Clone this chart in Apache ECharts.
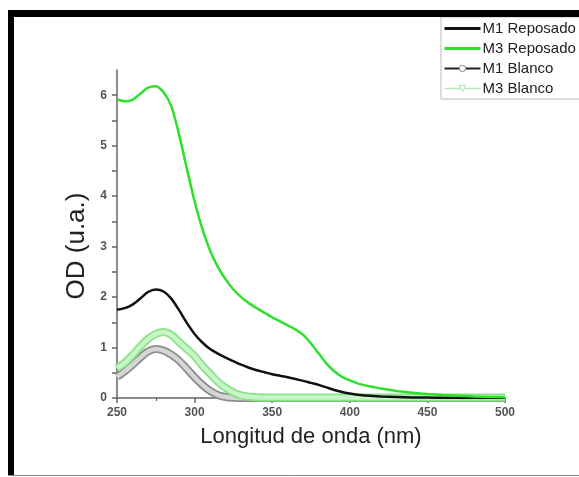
<!DOCTYPE html>
<html>
<head>
<meta charset="utf-8">
<script src="https://cdn.jsdelivr.net/npm/echarts@6/dist/echarts.min.js"></script>
<style>
html,body{margin:0;padding:0;background:#fff;}
#c{width:579px;height:477px;}
</style>
</head>
<body>
<div id="c"></div>
<script>
// Wavelength (nm)
var wavelength = [250,255,260,265,270,275,280,285,290,295,300,305,310,315,320,325,330,335,340,345,350,355,360,365,370,375,380,385,390,395,400,405,410,415,420,430,440,450,460,470,480,490,500];
// OD (u.a.)
var m1Reposado = [1.75,1.78,1.85,1.97,2.1,2.15,2.11,1.97,1.74,1.49,1.27,1.1,0.97,0.88,0.8,0.73,0.66,0.6,0.55,0.51,0.47,0.44,0.41,0.375,0.34,0.3,0.26,0.21,0.16,0.12,0.09,0.065,0.05,0.038,0.03,0.02,0.012,0.008,0.005,0.003,0.002,0.001,0];
var m3Reposado = [5.92,5.88,5.91,6.03,6.15,6.18,6.06,5.78,5.22,4.55,3.9,3.35,2.92,2.6,2.35,2.15,2.0,1.88,1.78,1.69,1.6,1.52,1.44,1.36,1.25,1.08,0.88,0.68,0.53,0.42,0.35,0.29,0.25,0.22,0.19,0.14,0.105,0.08,0.06,0.045,0.03,0.02,0.015];
var m1Blanco = [0.42,0.53,0.66,0.8,0.92,0.97,0.94,0.86,0.74,0.58,0.41,0.26,0.14,0.06,0.02,0.005,0,0,0,0,0,0,0,0,0,0,0,0,0,0,0,0,0,0,0,0,0,0,0,0,0,0,0];
var m3Blanco = [0.59,0.7,0.85,1.02,1.17,1.27,1.31,1.25,1.11,0.97,0.83,0.64,0.48,0.32,0.2,0.11,0.05,0.025,0.015,0.01,0.01,0.01,0.01,0.01,0.01,0.01,0.01,0.01,0.01,0.01,0.01,0.01,0.01,0.01,0.01,0.01,0.01,0.01,0.01,0.01,0.01,0.01,0.01];
var xTicks = [250,300,350,400,450,500];
var yTicks = [0,1,2,3,4,5,6];
var yTickMarks = [0,0.5,1,1.5,2,2.5,3,3.5,4,4.5,5,5.5,6];

function pairs(ys){ return wavelength.map(function(x,i){ return [x, ys[i]]; }); }

var FONT = 'Liberation Sans, Arial, sans-serif';
var chart = echarts.init(document.getElementById('c'), null, {renderer:'canvas'});
chart.setOption({
  backgroundColor:'#fff',
  animation:false,
  textStyle:{fontFamily:FONT},
  grid:{left:117,right:74,top:70,bottom:79,containLabel:false},
  graphic:[
    {type:'rect',shape:{x:8,y:10,width:571,height:7},style:{fill:'#000'},z:100},
    {type:'rect',shape:{x:8,y:10,width:6,height:466},style:{fill:'#000'},z:100},
    {type:'line',shape:{x1:8,y1:475.5,x2:579,y2:475.5},style:{stroke:'#888',lineWidth:1},z:100}
  ],
  legend:{
    orient:'vertical',left:441,top:17,
    padding:[4,12,3,2],itemGap:5,itemWidth:36,itemHeight:8,
    borderColor:'#bbb',borderWidth:1,backgroundColor:'#fff',
    textStyle:{fontSize:15,color:'#222',fontFamily:FONT,padding:[0,0,0,-3]},
    data:[
      {name:'M1 Reposado',lineStyle:{color:'#111',width:3},itemStyle:{opacity:0}},
      {name:'M3 Reposado',lineStyle:{color:'#2ee02e',width:3},itemStyle:{opacity:0}},
      {name:'M1 Blanco',lineStyle:{color:'#222',width:2},itemStyle:{color:'#fff',borderColor:'#888',borderWidth:1}},
      {name:'M3 Blanco',lineStyle:{color:'#b5eab5',width:1.5},itemStyle:{color:'#fff',borderColor:'#a8e4a8',borderWidth:1}}
    ]
  },
  xAxis:{
    type:'value',min:250,max:500,interval:50,
    name:'Longitud de onda (nm)',nameLocation:'middle',nameGap:28,
    nameTextStyle:{fontSize:22,color:'#222',fontFamily:FONT},
    axisLine:{show:true,onZero:false,lineStyle:{color:'#666',width:1.5}},
    axisTick:{show:true,length:5,lineStyle:{color:'#666',width:1.5}},
    minorTick:{show:true,splitNumber:2,length:3,lineStyle:{color:'#666',width:1.2}},
    splitLine:{show:false},
    axisLabel:{fontSize:12,fontWeight:'bold',color:'#555',margin:9,fontFamily:FONT,
      customValues:xTicks}
  },
  yAxis:{
    type:'value',min:0,max:6.5,
    name:'OD (u.a.)',nameLocation:'middle',nameGap:24,
    nameTextStyle:{fontSize:26,color:'#222',fontFamily:FONT,padding:[0,24,0,0]},
    axisLine:{show:true,onZero:false,lineStyle:{color:'#666',width:1.5}},
    axisTick:{show:true,length:5,lineStyle:{color:'#666',width:1.5},customValues:yTickMarks},
    splitLine:{show:false},
    axisLabel:{fontSize:12,fontWeight:'bold',color:'#555',margin:10,fontFamily:FONT,
      customValues:yTicks}
  },
  series:[
    {name:'M1 Blanco',type:'line',data:pairs(m1Blanco),symbol:'circle',showSymbol:false,clip:false,smooth:0.3,
      lineStyle:{color:'#8c8c8c',width:8},itemStyle:{color:'#8c8c8c'},z:1},
    {name:'M1 Blanco',type:'line',data:pairs(m1Blanco),symbol:'none',clip:false,smooth:0.3,
      lineStyle:{color:'#d6d6d6',width:4.5},z:2},
    {name:'M3 Blanco',type:'line',data:pairs(m3Blanco),symbol:'triangle',symbolRotate:180,showSymbol:false,clip:false,smooth:0.3,
      lineStyle:{color:'#86e386',width:8},itemStyle:{color:'#86e386'},z:3},
    {name:'M3 Blanco',type:'line',data:pairs(m3Blanco),symbol:'none',clip:false,smooth:0.3,
      lineStyle:{color:'#c8f4c8',width:4.5},z:4},
    {name:'M1 Reposado',type:'line',data:pairs(m1Reposado),symbol:'none',smooth:0.3,
      lineStyle:{color:'#111',width:2.5},itemStyle:{color:'#111'},z:5},
    {name:'M3 Reposado',type:'line',data:pairs(m3Reposado),symbol:'none',smooth:0.3,
      lineStyle:{color:'#2ee02e',width:2.5},itemStyle:{color:'#2ee02e'},z:6}
  ]
});
</script>
</body>
</html>
